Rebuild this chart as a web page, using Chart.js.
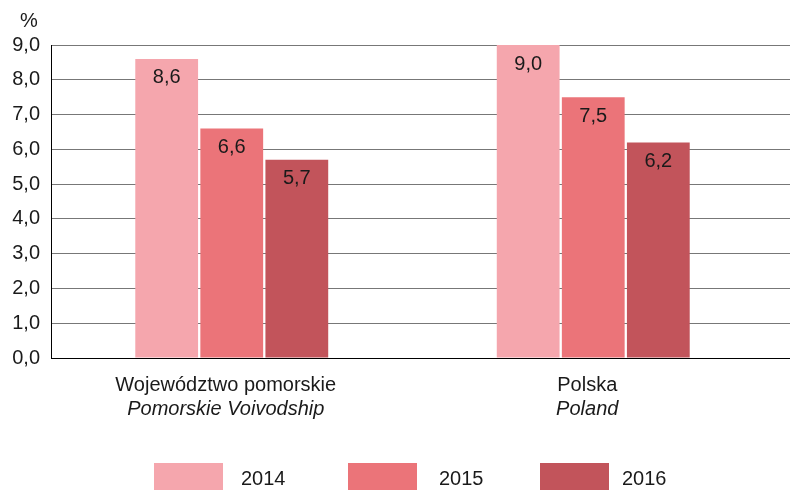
<!DOCTYPE html>
<html><head><meta charset="utf-8">
<script src="https://cdn.jsdelivr.net/npm/chart.js@4"></script>
<style>html,body{margin:0;padding:0;background:#fff}#wrap{width:790px;height:490px}</style>
</head><body><div id="wrap"><canvas id="c" width="790" height="490"></canvas></div>
<script>
const categories = [["Województwo pomorskie","Pomorskie Voivodship"],["Polska","Poland"]];
const seriesNames = ["2014","2015","2016"];
const values2014 = [8.6, 9.0];
const values2015 = [6.6, 7.5];
const values2016 = [5.7, 6.2];
const colors = ["#F5A6AD","#EB7479","#C2545B"];
const FONT = "'Liberation Sans', Arial, sans-serif";
const TXT = '#1a1a1a';
const fmt = v => v.toFixed(1).replace('.', ',');
const align = p => Math.round(p - 0.5) + 0.5;

const gridExt = {
  id: 'gridExt',
  beforeDatasetsDraw(chart) {
    const ctx = chart.ctx, ys = chart.scales.y, a = chart.chartArea;
    ctx.save();
    ctx.lineWidth = 1;
    ys.ticks.forEach(t => {
      const y = align(ys.getPixelForValue(t.value));
      ctx.strokeStyle = t.value === 0 ? '#000' : '#777';
      ctx.beginPath(); ctx.moveTo(a.right - 1, y); ctx.lineTo(790, y); ctx.stroke();
    });
    ctx.restore();
  }
};

const labelPlugin = {
  id: 'custom',
  afterDatasetsDraw(chart) {
    const ctx = chart.ctx;
    ctx.save();
    ctx.fillStyle = TXT;
    ctx.font = '20px ' + FONT;
    ctx.textAlign = 'center';
    ctx.textBaseline = 'middle';
    chart.data.datasets.forEach((ds, i) => {
      chart.getDatasetMeta(i).data.forEach((bar, j) => {
        ctx.fillText(fmt(ds.data[j]), bar.x, bar.y + 19);
      });
    });
    const xs = chart.scales.x;
    categories.forEach((c, j) => {
      const x = xs.getPixelForValue(j) - 6;
      ctx.font = '20px ' + FONT;
      ctx.fillText(c[0], x, 385);
      ctx.font = 'italic 20px ' + FONT;
      ctx.fillText(c[1], x, 409);
    });
    ctx.font = '20px ' + FONT;
    ctx.fillText('%', 29, 21);
    const boxX = [154, 348, 540];
    const textX = [241, 439, 622];
    ctx.textAlign = 'left';
    seriesNames.forEach((n, i) => {
      ctx.fillStyle = colors[i];
      ctx.fillRect(boxX[i], 463, 69, 27);
      ctx.fillStyle = TXT;
      ctx.fillText(n, textX[i], 479);
    });
    ctx.restore();
  }
};

new Chart(document.getElementById('c'), {
  type: 'bar',
  data: {
    labels: categories.map(c => c[0]),
    datasets: [
      {label: seriesNames[0], data: values2014, backgroundColor: colors[0]},
      {label: seriesNames[1], data: values2015, backgroundColor: colors[1]},
      {label: seriesNames[2], data: values2016, backgroundColor: colors[2]}
    ]
  },
  options: {
    responsive: false,
    animation: false,
    devicePixelRatio: 1,
    layout: {padding: {top: 45, right: 16, left: 0, bottom: 0}},
    plugins: {legend: {display: false}, tooltip: {enabled: false}},
    datasets: {bar: {categoryPercentage: 0.54, barPercentage: 0.965}},
    scales: {
      x: {
        grid: {display: false},
        border: {display: true, color: '#000', width: 1},
        ticks: {display: false},
        afterFit(s) { s.height = 132; }
      },
      y: {
        min: 0, max: 9,
        afterFit(s) { s.width = 51; },
        ticks: {stepSize: 1, padding: 11, color: TXT, font: {family: FONT, size: 20}, callback: v => fmt(v)},
        grid: {color: '#777', drawTicks: false, lineWidth: 1},
        border: {display: true, color: '#000', width: 1}
      }
    }
  },
  plugins: [gridExt, labelPlugin]
});
</script></body></html>
